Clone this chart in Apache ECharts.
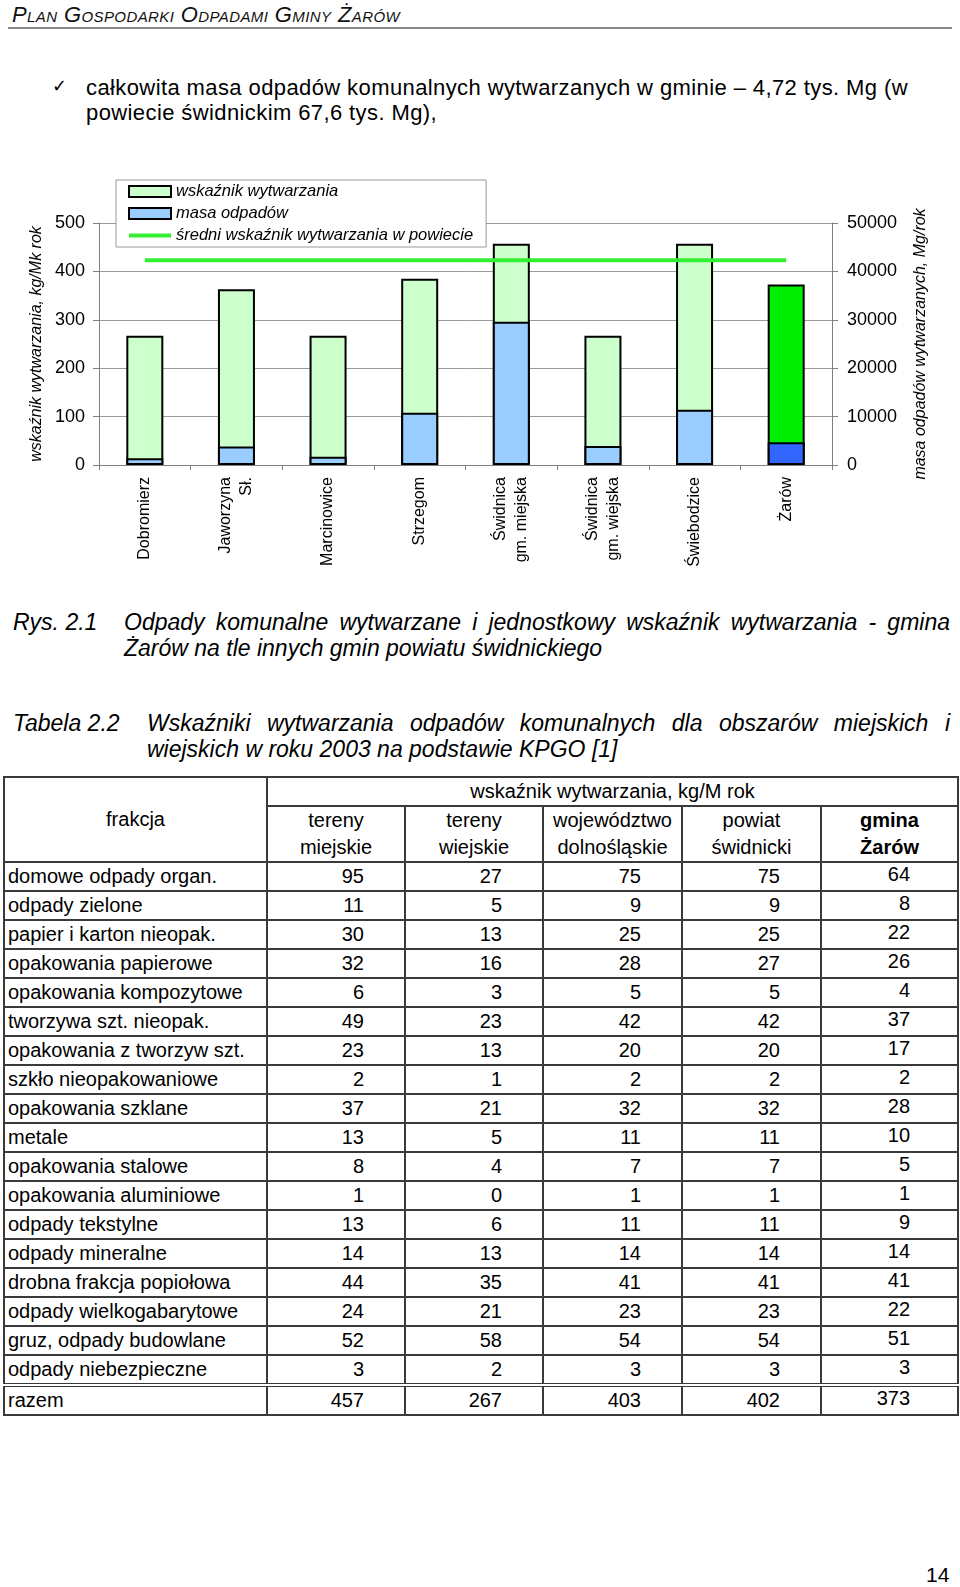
<!DOCTYPE html>
<html lang="pl">
<head>
<meta charset="utf-8">
<script src="https://cdn.jsdelivr.net/npm/echarts@6/dist/echarts.min.js"></script>
<style>
  html, body { margin:0; padding:0; background:#fff; }
  body { width:960px; height:1587px; position:relative; font-family:"Liberation Sans", Arial, sans-serif; color:#000; overflow:hidden; }
  .abs { position:absolute; }
  #hdr { left:12px; top:2px; font-size:22px; letter-spacing:0.4px; font-style:italic; font-variant:small-caps; white-space:nowrap; color:#111; }
  #hline { left:8px; top:27px; width:944px; height:0; border-top:2px solid #8a8a8a; }
  #check { left:52px; top:75px; font-family:"DejaVu Sans", sans-serif; font-size:18px; }
  #bullet { left:86px; top:75px; width:840px; font-size:22px; letter-spacing:0.4px; line-height:25px; }
  #chart { left:0; top:170px; width:960px; height:420px; }
  .cap { font-style:italic; font-size:23px; line-height:26px; white-space:nowrap; }
  .capL { left:13px; }
  .jl { text-align:justify; text-align-last:justify; white-space:normal; }
  table#t { position:absolute; left:3px; top:776px; width:954px; border-collapse:collapse; table-layout:fixed; font-size:20px; }
  #t td, #t th { border:2px solid #3a3a3a; padding:0; font-weight:normal; }
  #t th { text-align:center; line-height:27px; }
  #t td { height:27px; line-height:27px; text-align:right; padding-right:40px; }
  #t td.f { text-align:left; padding-left:3px; padding-right:0; }
  #t td.last { padding-right:47px; }
  #t td.last span { position:relative; top:-2px; }
  #t tr.sum td { border-top:4px double #3a3a3a; }
  #pg { left:926px; top:1563px; font-size:21px; }
</style>
</head>
<body>
<div id="hdr" class="abs">Plan Gospodarki Odpadami Gminy Żarów</div>
<div id="hline" class="abs"></div>
<div id="check" class="abs">✓</div>
<div id="bullet" class="abs">całkowita masa odpadów komunalnych wytwarzanych w gminie – 4,72 tys. Mg (w<br>powiecie świdnickim 67,6 tys. Mg),</div>
<div id="chart" class="abs"></div>

<div class="abs cap capL" style="top:609px;">Rys. 2.1</div>
<div class="abs cap jl" style="left:124px; top:609px; width:826px;">Odpady komunalne wytwarzane i jednostkowy wskaźnik wytwarzania - gmina</div>
<div class="abs cap" style="left:124px; top:635px;">Żarów na tle innych gmin powiatu świdnickiego</div>

<div class="abs cap capL" style="top:710px;">Tabela 2.2</div>
<div class="abs cap jl" style="left:147px; top:710px; width:803px;">Wskaźniki wytwarzania odpadów komunalnych dla obszarów miejskich i</div>
<div class="abs cap" style="left:147px; top:736px;">wiejskich w roku 2003 na podstawie KPGO [1]</div>

<table id="t"></table>
<div id="pg" class="abs">14</div>

<script>
// ---------- chart data ----------
const categories = ['Dobromierz', 'Jaworzyna\nSł.', 'Marcinowice', 'Strzegom', 'Świdnica\ngm. miejska', 'Świdnica\ngm. wiejska', 'Świebodzice', 'Żarów'];
const wskaznik = [267, 363, 267, 385, 457, 267, 457, 373];          // kg/Mk rok (left axis)
const masa = [1400, 3800, 1700, 10800, 29600, 3900, 11400, 4720];    // Mg/rok (right axis)
const sredniPowiat = [423, 423, 423, 423, 423, 423, 423, 423];      // kg/Mk rok
const leftTicks = { min: 0, max: 500, interval: 100 };
const rightTicks = { min: 0, max: 50000, interval: 10000 };
const highlight = 'Żarów';

// ---------- table data ----------
const tableHeadTop = 'wskaźnik wytwarzania, kg/M rok';
const tableCols = ['tereny<br>miejskie', 'tereny<br>wiejskie', 'województwo<br>dolnośląskie', 'powiat<br>świdnicki', '<b>gmina<br>Żarów</b>'];
const fractions = ['domowe odpady organ.', 'odpady zielone', 'papier i karton nieopak.', 'opakowania papierowe', 'opakowania kompozytowe', 'tworzywa szt. nieopak.', 'opakowania z tworzyw szt.', 'szkło nieopakowaniowe', 'opakowania szklane', 'metale', 'opakowania stalowe', 'opakowania aluminiowe', 'odpady tekstylne', 'odpady mineralne', 'drobna frakcja popiołowa', 'odpady wielkogabarytowe', 'gruz, odpady budowlane', 'odpady niebezpieczne', 'razem'];
const terenyMiejskie = [95, 11, 30, 32, 6, 49, 23, 2, 37, 13, 8, 1, 13, 14, 44, 24, 52, 3, 457];
const terenyWiejskie = [27, 5, 13, 16, 3, 23, 13, 1, 21, 5, 4, 0, 6, 13, 35, 21, 58, 2, 267];
const wojewodztwo = [75, 9, 25, 28, 5, 42, 20, 2, 32, 11, 7, 1, 11, 14, 41, 23, 54, 3, 403];
const powiat = [75, 9, 25, 27, 5, 42, 20, 2, 32, 11, 7, 1, 11, 14, 41, 23, 54, 3, 402];
const gminaZarow = [64, 8, 22, 26, 4, 37, 17, 2, 28, 10, 5, 1, 9, 14, 41, 22, 51, 3, 373];

// build table
(function () {
  const t = document.getElementById('t');
  const widths = [263, 138, 138, 139, 139, 137];
  let h = '<colgroup>' + widths.map(w => '<col style="width:' + w + 'px">').join('') + '</colgroup>';
  h += '<tr style="height:29px"><th rowspan="2">frakcja</th><th colspan="5">' + tableHeadTop + '</th></tr>';
  h += '<tr style="height:55px">' + tableCols.map(c => '<th>' + c + '</th>').join('') + '</tr>';
  fractions.forEach((f, i) => {
    const cls = i === fractions.length - 1 ? ' class="sum"' : '';
    h += '<tr' + cls + '><td class="f">' + f + '</td><td>' + terenyMiejskie[i] + '</td><td>' + terenyWiejskie[i] +
      '</td><td>' + wojewodztwo[i] + '</td><td>' + powiat[i] + '</td><td class="last"><span>' + gminaZarow[i] + '</span></td></tr>';
  });
  t.innerHTML = h;
})();

// ---------- chart ----------
const FONT = '"Liberation Sans", Arial, sans-serif';
const chart = echarts.init(document.getElementById('chart'), null, { renderer: 'canvas' });
const hiIdx = categories.indexOf(highlight);
const axisGray = '#808080';

chart.setOption({
  animation: false,
  textStyle: { fontFamily: FONT },
  grid: { left: 99, top: 53, width: 733, height: 242 },
  legend: {
    orient: 'vertical',
    left: 116, top: 10,
    padding: [3, 13, 3, 12],
    itemWidth: 42, itemHeight: 11, itemGap: 5,
    symbolKeepAspect: true,
    backgroundColor: '#fff',
    borderColor: '#999', borderWidth: 1,
    textStyle: { fontStyle: 'italic', fontSize: 16.5, color: '#000', fontFamily: FONT },
    data: [
      { name: 'wskaźnik wytwarzania', icon: 'rect' },
      { name: 'masa odpadów', icon: 'rect' },
      { name: 'średni wskaźnik wytwarzania w powiecie', icon: 'path://M0,0L42,0L42,4L0,4Z', itemStyle: { color: '#33ee33', borderWidth: 0 } }
    ]
  },
  xAxis: {
    type: 'category',
    data: categories,
    axisLine: { lineStyle: { color: axisGray, width: 1 } },
    axisTick: { show: true, length: 5, lineStyle: { color: axisGray } },
    axisLabel: { rotate: 90, fontSize: 16, color: '#000', margin: 12, lineHeight: 21, fontFamily: FONT }
  },
  yAxis: [
    {
      type: 'value', position: 'left',
      min: leftTicks.min, max: leftTicks.max, interval: leftTicks.interval,
      name: 'wskaźnik wytwarzania, kg/Mk rok', nameLocation: 'middle', nameGap: 54,
      nameTextStyle: { fontStyle: 'italic', fontSize: 16, color: '#000', fontFamily: FONT },
      axisLine: { show: true, lineStyle: { color: axisGray } },
      axisTick: { show: true, length: 6, lineStyle: { color: axisGray } },
      axisLabel: { fontSize: 18, color: '#000', margin: 14, fontFamily: FONT, formatter: v => String(v) },
      splitLine: { show: true, lineStyle: { color: '#9a9a9a', width: 1 } }
    },
    {
      type: 'value', position: 'right',
      min: rightTicks.min, max: rightTicks.max, interval: rightTicks.interval,
      name: 'masa odpadów wytwarzanych, Mg/rok', nameLocation: 'middle', nameGap: 81,
      nameTextStyle: { fontStyle: 'italic', fontSize: 16, color: '#000', fontFamily: FONT },
      axisLine: { show: true, lineStyle: { color: axisGray } },
      axisTick: { show: true, length: 6, lineStyle: { color: axisGray } },
      axisLabel: { fontSize: 18, color: '#000', margin: 15, fontFamily: FONT, formatter: v => String(v) },
      splitLine: { show: false }
    }
  ],
  series: [
    {
      name: 'wskaźnik wytwarzania', type: 'bar', yAxisIndex: 0, barWidth: 37,
      itemStyle: { color: '#ccffcc', borderColor: '#000', borderWidth: 2 },
      data: wskaznik.map((v, i) => i === hiIdx ? { value: v, itemStyle: { color: '#00ee00' } } : v),
      z: 2
    },
    {
      name: 'masa odpadów', type: 'bar', yAxisIndex: 1, barWidth: 37, barGap: '-100%',
      itemStyle: { color: '#99ccff', borderColor: '#000', borderWidth: 2 },
      data: masa.map((v, i) => i === hiIdx ? { value: v, itemStyle: { color: '#3366ff' } } : v),
      z: 3
    },
    {
      name: 'średni wskaźnik wytwarzania w powiecie', type: 'line', yAxisIndex: 0,
      data: sredniPowiat, symbol: 'none',
      lineStyle: { color: '#33ee33', width: 4 },
      itemStyle: { color: '#33ee33' },
      z: 4
    }
  ]
});
</script>
</body>
</html>
